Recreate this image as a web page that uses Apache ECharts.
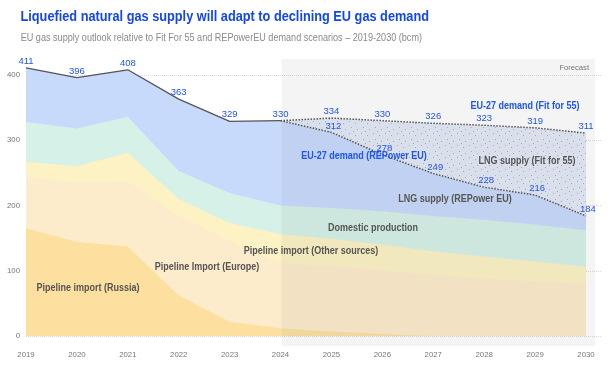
<!DOCTYPE html>
<html><head><meta charset="utf-8">
<script src="https://cdn.jsdelivr.net/npm/echarts@6/dist/echarts.min.js"></script>
<style>html,body{margin:0;padding:0;background:#fff}#c{width:612px;height:372px}</style>
</head><body><div id="c"></div>
<script>
// ---- data (bcm) ----
const years = [2019,2020,2021,2022,2023,2024,2025,2026,2027,2028,2029,2030];
const pipelineRussia = [165,144,137,62,22,12,7,3,0,0,0,0];
const pipelineEurope = [79,92,100,122,124,100,100,98,94,88,84,80];
const pipelineOther = [23,24,44,26,27,44,42,39,36,34,30,26];
const domesticProduction = [61,58,55,43,46,44,47,51,54,56,57,56];
const demandFitFor55 = [411,396,408,363,329,330,334,330,326,323,319,311];
const demandREPowerEU = [null,null,null,null,null,330,312,278,249,228,216,184];
const forecastStart = 2024;
const yTicks = [0,100,200,300,400];

const FONT = '"Liberation Sans",Arial,sans-serif';
const BLUE = '#1d55f0';

// cumulative tops
function cum(...arrs){return years.map((_,i)=>arrs.reduce((s,a)=>s+a[i],0));}
const topRussia = cum(pipelineRussia);
const topEurope = cum(pipelineRussia,pipelineEurope);
const topOther = cum(pipelineRussia,pipelineEurope,pipelineOther);
const topDomestic = cum(pipelineRussia,pipelineEurope,pipelineOther,domesticProduction);
const topLngRep = years.map((y,i)=>demandREPowerEU[i]!=null?demandREPowerEU[i]:demandFitFor55[i]);

const pairs = (arr, from, to) => years.map((y,i)=>[y,arr[i]]).filter(p=>p[1]!=null && p[0]>=from && p[0]<=to);

function makeHatch(){
  const c=document.createElement('canvas'); c.width=12;c.height=12;
  const g=c.getContext('2d'); g.fillStyle='#e3e9f7'; g.fillRect(0,0,12,12);
  g.fillStyle='rgba(80,85,100,0.4)';
  [[1,1],[7,3],[3,7],[9,9],[5,11]].forEach(([x,y])=>g.fillRect(x,y,1,1));
  return c;
}

function area(name, data, color){
  return {name, type:'line', data, symbol:'none', clip:false, silent:true,
    lineStyle:{width:0}, areaStyle:{color, opacity:1}, z:2};
}
const labelStyle = {show:true, position:'top', distance:1, color:BLUE, fontSize:9.5, fontFamily:FONT};
function demandLine(name, data, type, skipFirst, offset){
  return {name, type:'line', data, symbol:'circle', symbolSize:1, showSymbol:true, clip:false, z:4,
    itemStyle:{color:'rgba(0,0,0,0)'}, lineStyle:{color:'#555', width:type==='solid'?1.3:1.5, type},
    label:Object.assign({}, labelStyle, {offset:offset||[0,0],
      formatter:p=>(skipFirst && p.value[0]===forecastStart)?'':String(p.value[1])})};
}

const chart = echarts.init(document.getElementById('c'), null, {renderer:'canvas'});
chart.setOption({
  animation:false,
  backgroundColor:'#fff',
  grid:{left:26, right:11, top:75, bottom:36},
  xAxis:{type:'value', min:2019, max:2030.295, interval:1,
    axisLine:{show:false}, axisTick:{show:false}, splitLine:{show:false},
    axisLabel:{color:'#777', fontSize:7.8, fontFamily:FONT, margin:15, showMaxLabel:false,
      formatter:v=>Number.isInteger(v)?String(v):''}},
  yAxis:{type:'value', min:yTicks[0], max:yTicks[yTicks.length-1], interval:100,
    axisLine:{show:false}, axisTick:{show:false},
    splitLine:{show:true, lineStyle:{color:'#d8d8d8', type:'dotted', width:1}},
    axisLabel:{color:'#777', fontSize:7.8, fontFamily:FONT, margin:6}},
  series:[
    area('LNG supply (Fit for 55)', pairs(demandFitFor55, forecastStart, 2030), {image:makeHatch(), repeat:'repeat'}),
    area('LNG supply (REPower EU)', pairs(topLngRep, 2019, 2030), '#c8dafc'),
    area('Domestic production', pairs(topDomestic, 2019, 2030), '#d5f1e8'),
    area('Pipeline import (Other sources)', pairs(topOther, 2019, 2030), '#fdf2c4'),
    area('Pipeline Import (Europe)', pairs(topEurope, 2019, 2030), '#fdeccb'),
    area('Pipeline import (Russia)', pairs(topRussia, 2019, 2030), '#fde0a0'),
    demandLine('Demand history', pairs(demandFitFor55, 2019, forecastStart), 'solid', false),
    demandLine('EU-27 demand (Fit for 55)', pairs(demandFitFor55, forecastStart, 2030), 'dotted', true),
    demandLine('EU-27 demand (REPower EU)', pairs(demandREPowerEU, forecastStart, 2030), 'dotted', true, [2,0])
  ]
});

// forecast shading, titles and annotations
const fx = chart.convertToPixel({gridIndex:0}, [forecastStart, 0]);
const txt = (text, x, y, color, font, sx, align, z) => ({type:'text', x, y, z:z||20, scaleX:sx, silent:true,
  style:{text, fill:color, font, textAlign:align||'center', textVerticalAlign:'middle'}});
const ann = (text, x, y, color) => txt(text, x, y, color, 'bold 10px '+FONT, 0.9);
chart.setOption({graphic:[
  {type:'rect', shape:{x:fx[0]+1, y:59, width:595-fx[0]-1, height:287}, z:10, silent:true,
   style:{fill:'rgba(110,110,110,0.075)'}},
  txt('Liquefied natural gas supply will adapt to declining EU gas demand', 20.5, 17, '#1447e6', 'bold 14px '+FONT, 0.91, 'left'),
  txt('EU gas supply outlook relative to Fit For 55 and REPowerEU demand scenarios – 2019-2030 (bcm)', 20.7, 38, '#8a8a8a', '10.5px '+FONT, 0.866, 'left'),
  txt('Forecast', 589, 68, '#777', '8px '+FONT, 0.95, 'right'),
  ann('EU-27 demand (Fit for 55)', 525, 106, BLUE),
  ann('EU-27 demand (REPower EU)', 364, 156, BLUE),
  ann('LNG supply (Fit for 55)', 527, 161, '#555'),
  ann('LNG supply (REPower EU)', 455, 199, '#555'),
  ann('Domestic production', 373, 228, '#555'),
  ann('Pipeline import (Other sources)', 311, 251, '#555'),
  ann('Pipeline Import (Europe)', 207, 267, '#555'),
  ann('Pipeline import (Russia)', 88, 288, '#555')
]});
</script></body></html>
